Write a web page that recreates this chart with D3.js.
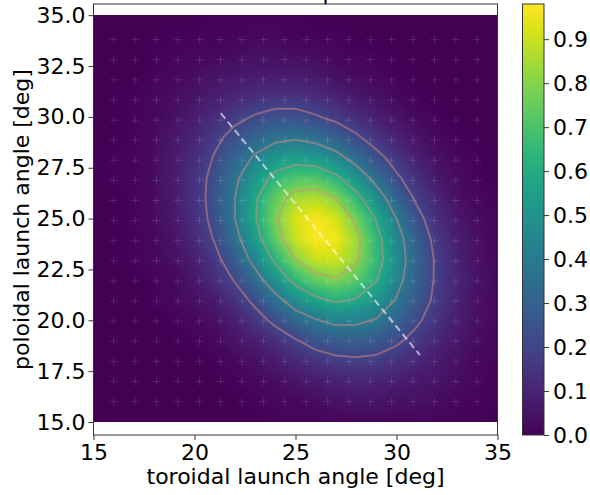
<!DOCTYPE html>
<html>
<head>
<meta charset="utf-8">
<script src="https://cdn.jsdelivr.net/npm/d3@7"></script>
<style>
  body { margin: 0; background: #fff; }
  svg text { font-family: "DejaVu Sans", sans-serif; fill: #000; }
</style>
</head>
<body>
<script>
// grid of launch angles (deg) the map is sampled on
const toroidalGrid = [15,16,17,18,19,20,21,22,23,24,25,26,27,28,29,30,31,32,33,34,35];
const poloidalGrid = [15,16,17,18,19,20,21,22,23,24,25,26,27,28,29,30,31,32,33,34,35];

// one row per poloidal angle (15 -> 35), one column per toroidal angle (15 -> 35)
const powerMap = [
  [0,0,0,0,0,0,0,0,0,0.01,0.01,0.01,0.02,0.02,0.02,0.02,0.02,0.01,0.01,0.01,0],
  [0,0,0,0,0,0,0,0,0.01,0.02,0.02,0.03,0.04,0.05,0.05,0.04,0.04,0.03,0.02,0.01,0.01],
  [0,0,0,0,0,0,0,0.01,0.02,0.03,0.05,0.07,0.09,0.10,0.09,0.08,0.06,0.05,0.03,0.02,0.01],
  [0,0,0,0,0,0,0.01,0.02,0.04,0.07,0.11,0.14,0.17,0.18,0.17,0.14,0.11,0.07,0.04,0.02,0.01],
  [0,0,0,0,0,0.01,0.02,0.05,0.08,0.13,0.19,0.25,0.28,0.29,0.27,0.22,0.16,0.10,0.06,0.03,0.02],
  [0,0,0,0,0.01,0.02,0.04,0.08,0.15,0.23,0.32,0.39,0.44,0.43,0.39,0.31,0.22,0.14,0.08,0.04,0.02],
  [0,0,0,0.01,0.02,0.04,0.07,0.14,0.23,0.35,0.48,0.57,0.62,0.59,0.51,0.39,0.27,0.17,0.09,0.04,0.02],
  [0,0,0,0.01,0.02,0.06,0.12,0.21,0.34,0.50,0.65,0.75,0.79,0.73,0.61,0.45,0.30,0.18,0.10,0.05,0.02],
  [0,0,0.01,0.02,0.04,0.08,0.16,0.29,0.45,0.63,0.80,0.90,0.91,0.82,0.66,0.48,0.31,0.18,0.09,0.04,0.02],
  [0,0,0.01,0.02,0.05,0.11,0.21,0.35,0.54,0.74,0.90,0.98,0.96,0.84,0.65,0.46,0.29,0.16,0.08,0.04,0.01],
  [0,0,0.01,0.03,0.06,0.13,0.24,0.40,0.59,0.78,0.92,0.97,0.92,0.77,0.59,0.40,0.24,0.13,0.06,0.03,0.01],
  [0,0,0.01,0.03,0.07,0.14,0.25,0.40,0.58,0.74,0.85,0.87,0.80,0.65,0.48,0.31,0.18,0.10,0.04,0.02,0.01],
  [0,0.01,0.01,0.03,0.07,0.14,0.24,0.37,0.52,0.64,0.71,0.71,0.63,0.50,0.35,0.22,0.13,0.06,0.03,0.01,0],
  [0,0.01,0.01,0.03,0.07,0.12,0.21,0.31,0.42,0.51,0.54,0.52,0.45,0.34,0.24,0.15,0.08,0.04,0.02,0.01,0],
  [0,0,0.01,0.03,0.06,0.10,0.17,0.24,0.31,0.36,0.38,0.35,0.29,0.22,0.14,0.09,0.05,0.02,0.01,0,0],
  [0,0,0.01,0.02,0.04,0.08,0.12,0.17,0.21,0.24,0.24,0.21,0.17,0.12,0.08,0.05,0.02,0.01,0,0,0],
  [0,0,0.01,0.02,0.03,0.05,0.08,0.10,0.13,0.14,0.14,0.12,0.09,0.06,0.04,0.02,0.01,0,0,0,0],
  [0,0,0,0.01,0.02,0.03,0.05,0.06,0.07,0.07,0.07,0.06,0.04,0.03,0.02,0.01,0,0,0,0,0],
  [0,0,0,0.01,0.01,0.02,0.02,0.03,0.04,0.04,0.03,0.03,0.02,0.01,0.01,0,0,0,0,0,0],
  [0,0,0,0,0.01,0.01,0.01,0.01,0.02,0.02,0.01,0.01,0.01,0,0,0,0,0,0,0,0],
  [0,0,0,0,0,0,0.01,0.01,0.01,0.01,0.01,0,0,0,0,0,0,0,0,0,0]
];

const contourLevels = [0.2, 0.4, 0.6, 0.8];

// scanned launch points (the faint + markers)
const scanToroidal = [16.0,17.06,18.12,19.18,20.24,21.29,22.35,23.41,24.47,25.53,26.59,27.65,28.71,29.76,30.82,31.88,32.94,34.0];
const scanPoloidal = [16.0,16.99,17.98,18.97,19.96,20.94,21.93,22.92,23.91,24.9,25.89,26.88,27.87,28.86,29.84,30.83,31.82,32.81,33.8];

// dashed line through the maximum
const ridgeToroidal = [21.3, 31.16];
const ridgePoloidal = [30.18, 18.29];

const xTicks = [15, 20, 25, 30, 35];
const yTicks = [15, 17.5, 20, 22.5, 25, 27.5, 30, 32.5, 35];
const cbTicks = [0, 0.1, 0.2, 0.3, 0.4, 0.5, 0.6, 0.7, 0.8, 0.9];

const W = 590, H = 495;
const plot = { left: 93.5, right: 497.5, top: 4, bottom: 435 };
const cbar = { left: 522.5, right: 544, top: 4, bottom: 435 };
const vmax = d3.max(powerMap.flat());

const x = d3.scaleLinear().domain([15, 35]).range([plot.left, plot.right]);
const y = d3.scaleLinear().domain([14.36, 35.55]).range([plot.bottom, plot.top]);
const color = v => d3.interpolateViridis(Math.max(0, Math.min(1, v / vmax)));

const svg = d3.select("body").append("svg").attr("width", W).attr("height", H);

// title, sits above the picture; only a descender shows
svg.append("text")
  .attr("x", (plot.left + plot.right) / 2 + 20).attr("y", 0)
  .attr("text-anchor", "middle").style("font-size", "22px")
  .text("Power deposition");

svg.append("clipPath").attr("id", "clip")
  .append("rect")
  .attr("x", plot.left).attr("y", plot.top)
  .attr("width", plot.right - plot.left).attr("height", plot.bottom - plot.top);

// heatmap, bilinear between grid points
function sample(xd, yd) {
  const nx = toroidalGrid.length, ny = poloidalGrid.length;
  const fx = (xd - toroidalGrid[0]) / (toroidalGrid[1] - toroidalGrid[0]);
  const fy = (yd - poloidalGrid[0]) / (poloidalGrid[1] - poloidalGrid[0]);
  const i = Math.max(0, Math.min(nx - 2, Math.floor(fx)));
  const j = Math.max(0, Math.min(ny - 2, Math.floor(fy)));
  const tx = Math.max(0, Math.min(1, fx - i)), ty = Math.max(0, Math.min(1, fy - j));
  const a = powerMap[j][i], b = powerMap[j][i + 1];
  const c = powerMap[j + 1][i], d = powerMap[j + 1][i + 1];
  return (a * (1 - tx) + b * tx) * (1 - ty) + (c * (1 - tx) + d * tx) * ty;
}

const hx0 = Math.round(x(15)), hx1 = Math.round(x(35));
const hy0 = Math.round(y(35)), hy1 = Math.round(y(15));
const cw = hx1 - hx0, ch = hy1 - hy0;
const canvas = document.createElement("canvas");
canvas.width = cw; canvas.height = ch;
const ctx = canvas.getContext("2d");
const img = ctx.createImageData(cw, ch);
for (let py = 0; py < ch; py++) {
  for (let px = 0; px < cw; px++) {
    const v = sample(x.invert(hx0 + px + 0.5), y.invert(hy0 + py + 0.5));
    const c = d3.rgb(color(v));
    const k = (py * cw + px) * 4;
    img.data[k] = c.r; img.data[k + 1] = c.g; img.data[k + 2] = c.b; img.data[k + 3] = 255;
  }
}
ctx.putImageData(img, 0, 0);

const g = svg.append("g").attr("clip-path", "url(#clip)");
g.append("image")
  .attr("x", hx0).attr("y", hy0).attr("width", cw).attr("height", ch)
  .attr("preserveAspectRatio", "none")
  .attr("href", canvas.toDataURL());

// scan points
const pts = d3.cross(scanToroidal, scanPoloidal);
g.append("g").selectAll("path").data(pts).enter().append("path")
  .attr("d", d => {
    const cx = x(d[0]), cy = y(d[1]);
    return `M${cx - 4},${cy}H${cx + 4}M${cx},${cy - 4}V${cy + 4}`;
  })
  .attr("stroke", "#fff").attr("stroke-opacity", 0.12).attr("stroke-width", 1);

// contours
const flat = powerMap.flat();
const contours = d3.contours()
  .size([toroidalGrid.length, poloidalGrid.length])
  .thresholds(contourLevels)(flat);
const toScreen = d3.geoTransform({
  point(cx, cy) {
    this.stream.point(
      x(toroidalGrid[0] + (cx - 0.5) * (toroidalGrid[1] - toroidalGrid[0])),
      y(poloidalGrid[0] + (cy - 0.5) * (poloidalGrid[1] - poloidalGrid[0])));
  }
});
g.append("g").selectAll("path").data(contours).enter().append("path")
  .attr("d", d3.geoPath(toScreen))
  .attr("fill", "none")
  .attr("stroke", "#d88a80").attr("stroke-opacity", 0.5).attr("stroke-width", 2);

// ridge line
g.append("line")
  .attr("x1", x(ridgeToroidal[0])).attr("y1", y(ridgePoloidal[0]))
  .attr("x2", x(ridgeToroidal[1])).attr("y2", y(ridgePoloidal[1]))
  .attr("stroke", "#fff").attr("stroke-opacity", 0.6)
  .attr("stroke-width", 2).attr("stroke-dasharray", "7,4");

// frame
svg.append("rect")
  .attr("x", plot.left).attr("y", plot.top)
  .attr("width", plot.right - plot.left).attr("height", plot.bottom - plot.top)
  .attr("fill", "none").attr("stroke", "#333").attr("stroke-width", 1);

// axes
const xAxis = svg.append("g").attr("transform", `translate(0,${plot.bottom})`)
  .call(d3.axisBottom(x).tickValues(xTicks).tickFormat(d3.format("d")).tickSize(5).tickPadding(4));
const yAxis = svg.append("g").attr("transform", `translate(${plot.left},0)`)
  .call(d3.axisLeft(y).tickValues(yTicks).tickFormat(d3.format(".1f")).tickSize(5).tickPadding(3));
[xAxis, yAxis].forEach(a => {
  a.select(".domain").remove();
  a.selectAll(".tick line").attr("stroke", "#333");
  a.selectAll("text").style("font-size", "22px").attr("fill", "#000")
    .style("font-family", "'DejaVu Sans', sans-serif");
});

svg.append("text")
  .attr("x", (plot.left + plot.right) / 2).attr("y", 484)
  .attr("text-anchor", "middle").style("font-size", "22px")
  .text("toroidal launch angle [deg]");
svg.append("text")
  .attr("transform", `translate(29,${(plot.top + plot.bottom) / 2}) rotate(-90)`)
  .attr("text-anchor", "middle").style("font-size", "22px")
  .text("poloidal launch angle [deg]");

// colorbar
const cb = d3.scaleLinear().domain([0, vmax]).range([cbar.bottom, cbar.top]);
const grad = svg.append("defs").append("linearGradient")
  .attr("id", "cbgrad").attr("x1", 0).attr("y1", 1).attr("x2", 0).attr("y2", 0);
d3.range(0, 1.0001, 0.05).forEach(t => {
  grad.append("stop").attr("offset", t).attr("stop-color", d3.interpolateViridis(t));
});
svg.append("rect")
  .attr("x", cbar.left).attr("y", cbar.top)
  .attr("width", cbar.right - cbar.left).attr("height", cbar.bottom - cbar.top)
  .attr("fill", "url(#cbgrad)").attr("stroke", "#333").attr("stroke-width", 1);
const cAxis = svg.append("g").attr("transform", `translate(${cbar.right},0)`)
  .call(d3.axisRight(cb).tickValues(cbTicks).tickFormat(d3.format(".1f")).tickSize(5).tickPadding(4));
cAxis.select(".domain").remove();
cAxis.selectAll(".tick line").attr("stroke", "#333");
cAxis.selectAll("text").style("font-size", "22px").attr("fill", "#000")
  .style("font-family", "'DejaVu Sans', sans-serif");
</script>
</body>
</html>
